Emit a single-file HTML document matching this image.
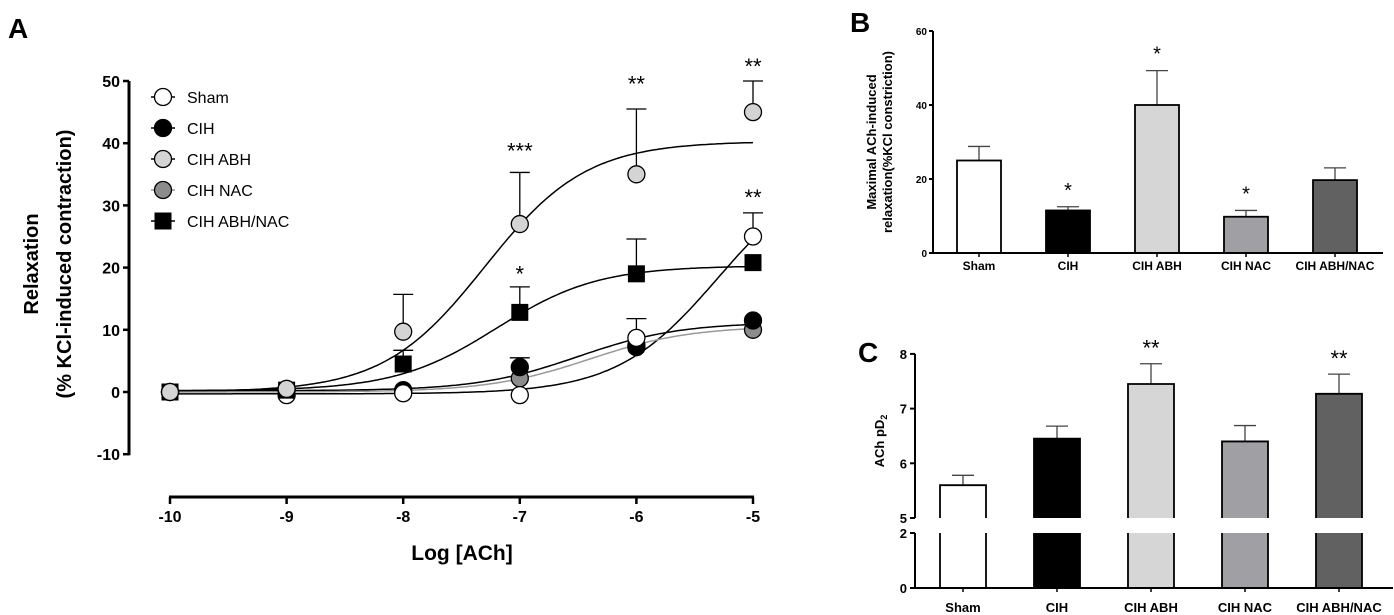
<!DOCTYPE html>
<html><head><meta charset="utf-8"><style>
html,body{margin:0;padding:0;background:#fff;}
svg{display:block;font-family:"Liberation Sans",Arial,sans-serif;}
</style></head><body>
<svg id="fig" width="1394" height="615" viewBox="0 0 1394 615">
<g id="pA"></g>
<g id="pB"></g>
<g id="pC"></g>
</svg>
<script>
// ---- Panel A data ----
const logDoses = [-10, -9, -8, -7, -6, -5];
const seriesNames = ["Sham", "CIH", "CIH ABH", "CIH NAC", "CIH ABH/NAC"];
const shamVals = [0, -0.5, -0.2, -0.5, 8.7, 25];
const shamErr = [0, 0, 0, 0, 3.1, 3.8];
const cihVals = [0, 0.5, 0.3, 4, 7.2, 11.5];
const cihErr = [0, 0, 0, 1.5, 0, 0];
const abhVals = [0, 0.5, 9.7, 27, 35, 45];
const abhErr = [0, 0, 6, 8.3, 10.5, 5];
const nacVals = [0, 0.3, 0, 2.2, 7.5, 10];
const nacErr = [0, 0, 0, 0, 0, 0];
const abhNacVals = [0, 0.3, 4.5, 12.8, 19, 20.8];
const abhNacErr = [0, 0, 2.2, 4.1, 5.6, 0];
// sigmoid fit parameters: bottom, top, logEC50, hill
const shamFit = [-0.3, 37, -5.3, 1];
const cihFit = [0.2, 11.2, -6.5, 1];
const abhFit = [0, 40.3, -7.3, 1];
const nacFit = [0, 10.6, -6.4, 1];
const abhNacFit = [0.2, 20.3, -7.2, 1];
const yTicksA = [50, 40, 30, 20, 10, 0, -10];
const xTicksA = [-10, -9, -8, -7, -6, -5];
const starLabelsA = [["***", -7, 39.8], ["**", -6, 50.6], ["**", -5, 53.4], ["*", -7, 20], ["**", -5, 32.3]];

// ---- Panel B data ----
const groups = ["Sham", "CIH", "CIH ABH", "CIH NAC", "CIH ABH/NAC"];
const maxRelax = [25, 11.5, 40, 9.8, 19.7];
const maxRelaxErr = [3.8, 1, 9.3, 1.7, 3.3];
const starsB = ["", "*", "*", "*", ""];
const yTicksB = [0, 20, 40, 60];

// ---- Panel C data ----
const pd2 = [5.6, 6.45, 7.45, 6.4, 7.27];
const pd2Err = [0.18, 0.23, 0.37, 0.29, 0.36];
const starsC = ["", "", "**", "", "**"];
const yTicksCUpper = [5, 6, 7, 8];
const yTicksCLower = [0, 2];

const NS = "http://www.w3.org/2000/svg";
function mk(parent, tag, attrs, text) {
  const e = document.createElementNS(NS, tag);
  for (const k in attrs) e.setAttribute(k, attrs[k]);
  if (text !== undefined) e.textContent = text;
  parent.appendChild(e);
  return e;
}
const fills = ["#ffffff", "#000000", "#d6d6d6", "#a0a0a4", "#616161"];

// ===== Panel A =====
const A = document.getElementById("pA");
const xA = v => 170 + (v + 10) * 116.6;
const yA = v => 392 - v * 6.22;
let t;
t = mk(A, "text", {x: 8, y: 38, "font-size": 28, "font-weight": "bold"}, "A");


let ax = mk(A, "line", {x1: 129, y1: yA(50), x2: 129, y2: yA(-10) + 1, stroke: "#000", "stroke-width": 3});


yTicksA.forEach(v => {
  const l = mk(A, "line", {x1: 123, y1: yA(v), x2: 129, y2: yA(v), stroke: "#000", "stroke-width": 2.5});
  
  
  const tx = mk(A, "text", {x: 120, y: yA(v) + 6, "font-size": 16, "font-weight": "bold", "text-anchor": "end"}, String(v));
  
  
});
ax = mk(A, "line", {x1: xA(-10) - 1, y1: 497, x2: xA(-5) + 1, y2: 497, stroke: "#000", "stroke-width": 3});


xTicksA.forEach(v => {
  const l = mk(A, "line", {x1: xA(v), y1: 497, x2: xA(v), y2: 504, stroke: "#000", "stroke-width": 2.5});
  
  
  const tx = mk(A, "text", {x: xA(v), y: 522, "font-size": 16, "font-weight": "bold", "text-anchor": "middle"}, String(v));
  
  
});
t = mk(A, "text", {x: 462, y: 560, "font-size": 21, "font-weight": "bold", "text-anchor": "middle"}, "Log [ACh]");


const yt = mk(A, "text", {transform: "translate(38,264) rotate(-90)", "font-size": 20, "font-weight": "bold", "text-anchor": "middle"});


mk(yt, "tspan", {x: 0, y: 0}, "Relaxation");
mk(yt, "tspan", {x: 0, y: 33}, "(% KCl-induced contraction)");

const vals = [shamVals, cihVals, abhVals, nacVals, abhNacVals];
const errs = [shamErr, cihErr, abhErr, nacErr, abhNacErr];
const fits = [shamFit, cihFit, abhFit, nacFit, abhNacFit];
const curveCols = ["#000", "#000", "#000", "#999", "#000"];
const markerFill = ["#ffffff", "#000000", "#d4d4d4", "#8c8c8c", "#000000"];
const keys = ["sham", "cih", "cih-abh", "cih-nac", "cih-abh-nac"];
fits.forEach((f, i) => {
  let d = "";
  for (let k = 0; k <= 200; k++) {
    const x = -10 + k * 5 / 200;
    const y = f[0] + (f[1] - f[0]) / (1 + Math.pow(10, (f[2] - x) * f[3]));
    d += (k ? "L" : "M") + xA(x).toFixed(1) + "," + yA(y).toFixed(1);
  }
  const p = mk(A, "path", {d: d, fill: "none", stroke: curveCols[i], "stroke-width": 1.5});
  
  
});
function marker(g, i, cx, cy, r) {
  let m;
  if (i === 4) m = mk(g, "rect", {x: cx - r, y: cy - r, width: 2 * r, height: 2 * r, fill: "#000"});
  else m = mk(g, "circle", {cx: cx, cy: cy, r: r, fill: markerFill[i], stroke: "#000", "stroke-width": 1.3});
  return m;
}
[3, 1, 0, 4, 2].forEach(i => {
  vals[i].forEach((v, j) => {
    const x = xA(logDoses[j]);
    if (errs[i][j] > 0) {
      const e = mk(A, "path", {d: `M${x},${yA(v)}V${yA(v + errs[i][j])}M${x - 10},${yA(v + errs[i][j])}H${x + 10}`, stroke: "#000", "stroke-width": 1.3, fill: "none"});
      
      
    }
    const m = marker(A, i, x, yA(v), 8.5);
    
    
  });
});
starLabelsA.forEach(s => {
  const tx = mk(A, "text", {x: xA(s[1]), y: yA(s[2]) + 14, "font-size": 22, "text-anchor": "middle"}, s[0]);
  
  
});
seriesNames.forEach((n, i) => {
  const y = 97 + i * 31;
  const g = mk(A, "g", {});
  
  
  mk(g, "line", {x1: 151, y1: y, x2: 175, y2: y, stroke: curveCols[i], "stroke-width": 1.5});
  marker(g, i, 163, y, 8.5);
  mk(g, "text", {x: 187, y: y + 6, "font-size": 16}, n);
});

// ===== Panel B =====
const B = document.getElementById("pB");
const yB = v => 253 - v * 3.7;
const xB = i => 979 + i * 89;
t = mk(B, "text", {x: 850, y: 32, "font-size": 28, "font-weight": "bold"}, "B");


const ytB = mk(B, "text", {transform: "translate(876,142) rotate(-90)", "font-size": 13, "font-weight": "bold", "text-anchor": "middle"});


mk(ytB, "tspan", {x: 0, y: 0}, "Maximal ACh-induced");
mk(ytB, "tspan", {x: 0, y: 16}, "relaxation(%KCl constriction)");
maxRelax.forEach((v, i) => {
  const x = xB(i);
  const e = mk(B, "path", {d: `M${x},${yB(v)}V${yB(v + maxRelaxErr[i])}M${x - 11},${yB(v + maxRelaxErr[i])}H${x + 11}`, stroke: "#444", "stroke-width": 1.3, fill: "none"});
  
  
  const r = mk(B, "rect", {x: x - 22, y: yB(v), width: 44, height: yB(0) - yB(v), fill: fills[i], stroke: "#000", "stroke-width": 1.8});
  
  
  const tx = mk(B, "text", {x: x, y: 270, "font-size": 12, "font-weight": "bold", "text-anchor": "middle"}, groups[i]);
  
  
  if (starsB[i]) {
    const s = mk(B, "text", {x: x, y: yB(v + maxRelaxErr[i]) - 10, "font-size": 20, "text-anchor": "middle"}, starsB[i]);
    
    
  }
});
ax = mk(B, "line", {x1: 933, y1: yB(60), x2: 933, y2: yB(0) + 1, stroke: "#000", "stroke-width": 2});


ax = mk(B, "line", {x1: 932, y1: 253, x2: 1383, y2: 253, stroke: "#000", "stroke-width": 2});


yTicksB.forEach(v => {
  mk(B, "line", {x1: 929, y1: yB(v), x2: 933, y2: yB(v), stroke: "#000", "stroke-width": 2});
  const tx = mk(B, "text", {x: 927, y: yB(v) + 4, "font-size": 10, "font-weight": "bold", "text-anchor": "end"}, String(v));
  
  
});
groups.forEach((g, i) => mk(B, "line", {x1: xB(i), y1: 253, x2: xB(i), y2: 257, stroke: "#000", "stroke-width": 1.5}));

// ===== Panel C =====
const C = document.getElementById("pC");
const yCu = v => 518 - (v - 5) * 54.7;
const yCl = v => 588 - v * 27.5;
const xC = i => 963 + i * 94;
t = mk(C, "text", {x: 858, y: 362, "font-size": 28, "font-weight": "bold"}, "C");


t = mk(C, "text", {transform: "translate(884,441) rotate(-90)", "font-size": 13, "font-weight": "bold", "text-anchor": "middle"});


mk(t, "tspan", {}, "ACh pD");
mk(t, "tspan", {"font-size": 9, dy: 3}, "2");
pd2.forEach((v, i) => {
  const x = xC(i);
  const e = mk(C, "path", {d: `M${x},${yCu(v)}V${yCu(v + pd2Err[i])}M${x - 11},${yCu(v + pd2Err[i])}H${x + 11}`, stroke: "#444", "stroke-width": 1.3, fill: "none"});
  
  
  const sw = 1.8;
  const top = mk(C, "path", {d: `M${x - 23},${yCu(5)}V${yCu(v)}H${x + 23}V${yCu(5)}`, fill: fills[i], stroke: "#000", "stroke-width": sw});
  
  
  const bot = mk(C, "path", {d: `M${x - 23},${yCl(2)}V${yCl(0)}H${x + 23}V${yCl(2)}`, fill: fills[i], stroke: "#000", "stroke-width": sw});
  
  
  const tx = mk(C, "text", {x: x, y: 612, "font-size": 13, "font-weight": "bold", "text-anchor": "middle"}, groups[i]);
  
  
  if (starsC[i]) {
    const s = mk(C, "text", {x: x, y: yCu(v + pd2Err[i]) - 8, "font-size": 22, "text-anchor": "middle"}, starsC[i]);
    
    
  }
  mk(C, "line", {x1: x, y1: 588, x2: x, y2: 592, stroke: "#000", "stroke-width": 1.5});
});
ax = mk(C, "line", {x1: 915, y1: yCu(8), x2: 915, y2: yCu(5), stroke: "#000", "stroke-width": 2});


ax = mk(C, "line", {x1: 915, y1: yCl(2), x2: 915, y2: 589, stroke: "#000", "stroke-width": 2});


ax = mk(C, "line", {x1: 914, y1: 588, x2: 1393, y2: 588, stroke: "#000", "stroke-width": 2});


yTicksCUpper.forEach(v => {
  mk(C, "line", {x1: 910, y1: yCu(v), x2: 915, y2: yCu(v), stroke: "#000", "stroke-width": 2});
  const tx = mk(C, "text", {x: 907, y: yCu(v) + 5, "font-size": 13, "font-weight": "bold", "text-anchor": "end"}, String(v));
  
  
});
yTicksCLower.forEach(v => {
  mk(C, "line", {x1: 910, y1: yCl(v), x2: 915, y2: yCl(v), stroke: "#000", "stroke-width": 2});
  const tx = mk(C, "text", {x: 907, y: yCl(v) + 5, "font-size": 13, "font-weight": "bold", "text-anchor": "end"}, String(v));
  
  
});
</script>
</body></html>
